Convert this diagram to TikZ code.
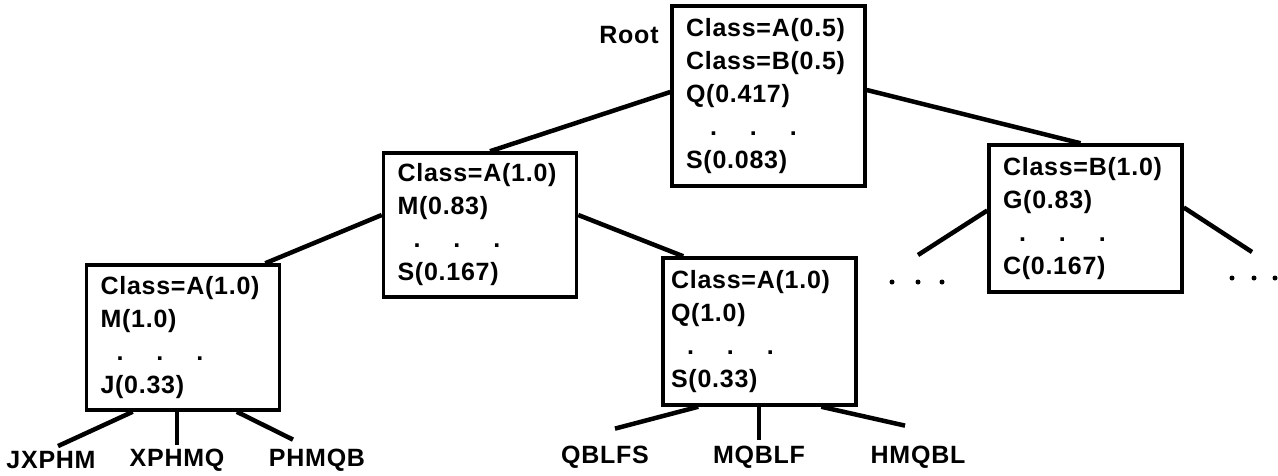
\documentclass[tikz,border=0pt]{standalone}
\usepackage{fontspec}
\setmainfont{Liberation Sans}[LetterSpace=3]
\usetikzlibrary{calc, positioning}

\begin{document}
\begin{tikzpicture}[x=1pt, y=-1pt,
  box/.style={draw, line width=3.5pt, text width=165pt, inner xsep=14pt, inner ysep=0pt,
    align=left, minimum height=146pt, font=\fontsize{25}{33}\selectfont\bfseries},
  lbl/.style={inner sep=1pt, font=\fontsize{25}{30}\selectfont\bfseries},
  br/.style={line width=4.5pt}]
\useasboundingbox (0,0) rectangle (1278,475);

\node[box, minimum height=180pt] (root) at (768.5,96)
  {Class=A(0.5)\\ Class=B(0.5)\\ Q(0.417)\\ \hspace*{24pt}.\hspace{33pt}.\hspace{33pt}.\\ S(0.083)};
\node[lbl] (rootlbl) at (629,35) {Root};
\node[box, minimum height=144pt] (cA) at (480,225)
  {Class=A(1.0)\\ M(0.83)\\ \hspace*{16pt}.\hspace{33pt}.\hspace{33pt}.\\ S(0.167)};
\node[box, minimum height=147pt] (cB) at (1085.5,218.5)
  {Class=B(1.0)\\ G(0.83)\\ \hspace*{16pt}.\hspace{33pt}.\hspace{33pt}.\\ C(0.167)};
\node[box, minimum height=145pt] (cAA) at (183,337.5)
  {Class=A(1.0)\\ M(1.0)\\ \hspace*{16pt}.\hspace{33pt}.\hspace{33pt}.\\ J(0.33)};
\node[box, minimum height=147pt, inner xsep=8pt, text width=177pt] (cAB) at (759.5,331.5)
  {Class=A(1.0)\\ Q(1.0)\\ \hspace*{16pt}.\hspace{33pt}.\hspace{33pt}.\\ S(0.33)};

\node[lbl] (jxphm) at (51,460) {JXPHM};
\node[lbl] (xphmq) at (177,460) {XPHMQ};
\node[lbl] (phmqb) at (317,460) {PHMQB};
\node[lbl] (qblfs) at (605,457) {QBLFS};
\node[lbl] (mqblf) at (759,457) {MQBLF};
\node[lbl] (hmqbl) at (918,457) {HMQBL};

\coordinate (openL) at (918,255);
\coordinate (openR) at (1252,252);

\draw[br] ([yshift=4pt]root.west) -- ([xshift=10pt]cA.north);
\draw[br] ([yshift=6pt]root.east) -- ([xshift=-5pt]cB.north);
\draw[br] ([yshift=10pt]cA.west) -- ([xshift=-16pt]cAA.north east);
\draw[br] ([yshift=10pt]cA.east) -- ([xshift=22pt]cAB.north west);
\draw[br] ([yshift=8pt]cB.west) -- (openL);
\draw[br] ([yshift=11pt]cB.east) -- (openR);

\draw[br] ([xshift=48pt]cAA.south west) -- ([shift={(7pt,4pt)}]jxphm.north);
\draw[br] (xphmq.north |- cAA.south) -- ([yshift=3pt]xphmq.north);
\draw[br] ([xshift=152pt]cAA.south west) -- ([shift={(-24pt,8pt)}]phmqb.north);
\draw[br] ([xshift=37pt]cAB.south west) -- ([shift={(10pt,16pt)}]qblfs.north);
\draw[br] (mqblf.north |- cAB.south) -- ([yshift=5pt]mqblf.north);
\draw[br] ([xshift=160pt]cAB.south west) -- ([shift={(-13pt,19pt)}]hmqbl.north);

\foreach \x in {892,918,942} \fill (\x,282) circle (2.5pt);
\foreach \x in {1232,1254,1275} \fill (\x,278) circle (2.5pt);
\end{tikzpicture}
\end{document}
